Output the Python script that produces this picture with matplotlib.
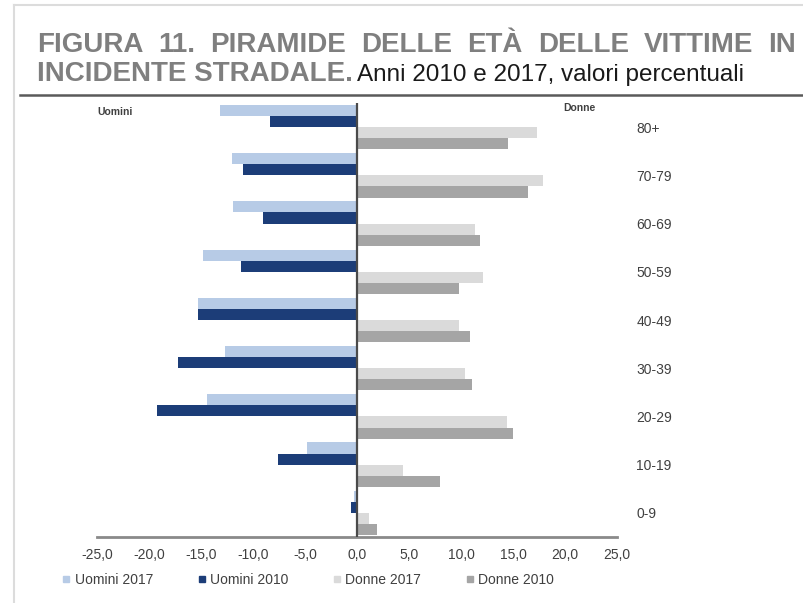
import matplotlib
matplotlib.use("Agg")
import matplotlib.pyplot as plt
from matplotlib.lines import Line2D
import numpy as np

categories = ["0-9", "10-19", "20-29", "30-39", "40-49", "50-59", "60-69", "70-79", "80+"]
uomini_2017 = [0.3, 4.8, 14.4, 12.7, 15.3, 14.8, 11.9, 12.0, 13.2]
uomini_2010 = [0.6, 7.6, 19.2, 17.2, 15.3, 11.2, 9.0, 11.0, 8.4]
donne_2017 = [1.2, 4.4, 14.4, 10.4, 9.8, 12.1, 11.3, 17.9, 17.3]
donne_2010 = [1.9, 8.0, 15.0, 11.1, 10.9, 9.8, 11.8, 16.4, 14.5]
series_names = ["Uomini 2017", "Uomini 2010", "Donne 2017", "Donne 2010"]
xticks = [-25, -20, -15, -10, -5, 0, 5, 10, 15, 20, 25]

colors = ["#b7cbe6", "#1c3d78", "#dadada", "#a5a5a5"]
sans = ["Liberation Sans", "DejaVu Sans"]

W, H = 804, 603
fig = plt.figure(figsize=(W / 100, H / 100), dpi=100)
fig.patch.set_facecolor("white")

ax = fig.add_axes([97 / W, 1 - 537 / H, 520 / W, 434 / H])
y = np.arange(len(categories))
h = 0.23
data = [np.negative(uomini_2017), np.negative(uomini_2010), donne_2017, donne_2010]
offsets = [1.5 * h, 0.5 * h, -0.5 * h, -1.5 * h]
for vals, off, c, name in zip(data, offsets, colors, series_names):
    ax.barh(y + off, vals, height=h, color=c, label=name, edgecolor="none")

ax.set_xlim(-25, 25)
ax.set_ylim(-0.5, len(categories) - 0.5)
ax.set_xticks(xticks)
ax.set_xticklabels([f"{v:.1f}".replace(".", ",") for v in xticks],
                   fontsize=10, color="#404040", family=sans)
ax.tick_params(axis="x", length=0, pad=8)
ax.yaxis.tick_right()
ax.set_yticks(y)
ax.set_yticklabels(categories, fontsize=10, color="#404040", family=sans)
ax.tick_params(axis="y", length=0, pad=14)
for s in ["top", "left", "right"]:
    ax.spines[s].set_visible(False)
ax.spines["bottom"].set_color("#8a8a8a")
ax.spines["bottom"].set_linewidth(2)
ax.axvline(0, color="#4a4a4a", lw=1.6, zorder=3)

fig.text(97 / W, 1 - 112 / H, "Uomini", fontsize=7.5, fontweight="bold",
         color="#404040", family=sans, va="center", ha="left")
fig.text(596 / W, 1 - 108 / H, "Donne", fontsize=7.5, fontweight="bold",
         color="#404040", family=sans, va="center", ha="right")

# Legend
handles = [Line2D([], [], marker="s", ls="none", markersize=4, color=c) for c in colors]
fig.legend(handles, series_names, loc="center", bbox_to_anchor=(308 / W, 1 - 580 / H),
           ncol=4, frameon=False, handlelength=0.6, handletextpad=0.3,
           columnspacing=3.2, labelcolor="#404040", prop={"family": sans, "size": 10})

# Frame lines
fig.add_artist(Line2D([14 / W, 14 / W], [0, 1 - 5 / H], color="#dcdcdc", lw=1.5,
                      transform=fig.transFigure))
fig.add_artist(Line2D([14 / W, 1], [1 - 5 / H, 1 - 5 / H], color="#dcdcdc", lw=1.5,
                      transform=fig.transFigure))
fig.add_artist(Line2D([20 / W, 1], [1 - 95 / H, 1 - 95 / H], color="#5a5a5a", lw=1.8,
                      transform=fig.transFigure))

# Title line 1 justified
title_words = ["FIGURA", "11.", "PIRAMIDE", "DELLE", "ETÀ", "DELLE", "VITTIME", "IN"]
gray = "#7f7f7f"
renderer = fig.canvas.get_renderer()
texts = [fig.text(0, 1 - 52 / H, w, fontsize=20, fontweight="bold", color=gray,
                  family=sans, va="baseline", ha="left") for w in title_words]
widths = [t.get_window_extent(renderer).width for t in texts]
x0, x1 = 37, 796
gap = (x1 - x0 - sum(widths)) / (len(texts) - 1)
x = x0
for t, wd in zip(texts, widths):
    t.set_x(x / W)
    x += wd + gap

t2 = fig.text(37 / W, 1 - 81 / H, "INCIDENTE STRADALE.", fontsize=20, fontweight="bold",
              color=gray, family=sans, va="baseline", ha="left")
w2 = t2.get_window_extent(renderer).width
fig.text((37 + w2 + 4) / W, 1 - 81 / H, "Anni 2010 e 2017, valori percentuali",
         fontsize=17.5, color="#1a1a1a", family=sans, va="baseline", ha="left")

fig.savefig("out.png", dpi=100)
